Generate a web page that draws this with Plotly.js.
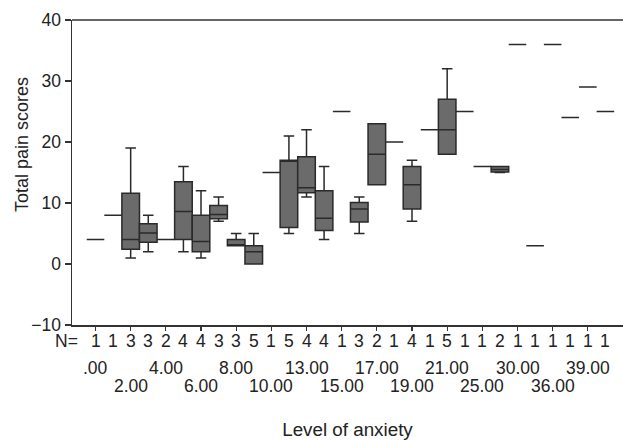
<!DOCTYPE html>
<html>
<head>
<meta charset="utf-8">
<script src="https://cdn.plot.ly/plotly-3.0.1.min.js"></script>
<style>html,body{margin:0;padding:0;background:#fff;}#chart{width:623px;height:440px;}</style>
</head>
<body>
<div id="chart"></div>
<script>
// Category labels (every other category is labelled in the source chart)
const levelLabels = [".00","","2.00","","4.00","","6.00","","8.00","","10.00","","13.00","","15.00","","17.00","","19.00","","21.00","","25.00","","30.00","","36.00","","39.00",""];
const nCounts   = [1,1,3,3,2,4,4,3,3,5,1,5,4,4,1,3,2,1,4,1,5,1,1,2,1,1,1,1,1,1];
const lowerVals = [4,8,1,2,4,2,1,7,3,0,15,5,11,4,25,5,13,20,7,22,18,25,16,15,36,3,36,24,29,25];
const q1Vals    = [4,8,2.4,3.55,4,4,2,7.4,3,0,15,6,11.7,5.5,25,6.9,13,20,9,22,18,25,16,15.1,36,3,36,24,29,25];
const medVals   = [4,8,4,5.1,4,8.6,3.7,8.1,3,2,15,17,12.5,7.5,25,9,18,20,13,22,22,25,16,15.5,36,3,36,24,29,25];
const q3Vals    = [4,8,11.6,6.6,4,13.5,8,9.6,4,3,15,17,17.6,12,25,10.1,23,20,16,22,27,25,16,16,36,3,36,24,29,25];
const upperVals = [4,8,19,8,4,16,12,11,5,5,15,21,22,16,25,11,23,20,17,22,32,25,16,16,36,3,36,24,29,25];
const yTicks = [-10,0,10,20,30,40];

const idx = levelLabels.map((_, i) => i);
const font = "Liberation Sans, Arial, sans-serif";
const txt = "#222";

const trace = {
  type: "box",
  x: idx,
  q1: q1Vals, median: medVals, q3: q3Vals,
  lowerfence: lowerVals, upperfence: upperVals,
  width: 1,
  whiskerwidth: 0.6,
  boxpoints: false,
  fillcolor: "#6b6b6b",
  line: {color: "#2a2a2a", width: 1.5},
  hoverinfo: "skip",
  showlegend: false
};

const annotations = [];
annotations.push({xref: "paper", yref: "paper", x: 0, y: 0, xanchor: "center", yanchor: "middle",
  xshift: -6, yshift: -16, text: "N=", showarrow: false, font: {family: font, size: 17.5, color: txt}});
idx.forEach(i => {
  annotations.push({xref: "x", yref: "paper", x: i, y: 0, xanchor: "center", yanchor: "middle",
    yshift: -16, text: String(nCounts[i]), showarrow: false, font: {family: font, size: 17.5, color: txt}});
  if (levelLabels[i] !== "") {
    const upper = (i % 4 === 0);
    annotations.push({xref: "x", yref: "paper", x: i, y: 0, xanchor: "center", yanchor: "middle",
      yshift: upper ? -43 : -61, text: levelLabels[i], showarrow: false,
      font: {family: font, size: 17.5, color: txt}});
  }
});
// y-axis title (placed as in the source: above the vertical centre of the plot)
annotations.push({xref: "paper", yref: "paper", x: 0, y: 0.59, xanchor: "center", yanchor: "middle",
  xshift: -50, textangle: -90, text: "Total pain scores", showarrow: false,
  font: {family: font, size: 18, color: txt}});

const layout = {
  width: 623, height: 440,
  margin: {l: 72, r: 0, t: 20, b: 115, pad: 0},
  paper_bgcolor: "#fff", plot_bgcolor: "#fff",
  font: {family: font, size: 17, color: txt},
  xaxis: {
    range: [-1.337, 30.0],
    showline: true, linecolor: "#333", linewidth: 1.5,
    ticks: "outside", ticklen: 4, tickcolor: "#333", tickwidth: 1.2,
    tickvals: idx.filter(i => i % 2 === 0),
    showticklabels: false, showgrid: false, zeroline: false,
    title: {text: "Level of anxiety", standoff: 94, font: {family: font, size: 18.8, color: txt}}
  },
  yaxis: {
    range: [-10, 40],
    showline: true, linecolor: "#333", linewidth: 1.5,
    ticks: "outside", ticklen: 6, tickcolor: "#333", tickwidth: 1.2,
    tickvals: yTicks,
    tickfont: {family: font, size: 17.5, color: txt},
    showgrid: false, zeroline: false
  },
  shapes: [{type: "line", xref: "paper", yref: "paper", x0: 0, x1: 1, y0: 1, y1: 1,
    line: {color: "#333", width: 1.5}}],
  annotations: annotations
};

Plotly.newPlot("chart", [trace], layout, {displayModeBar: false, staticPlot: true});
</script>
</body>
</html>
